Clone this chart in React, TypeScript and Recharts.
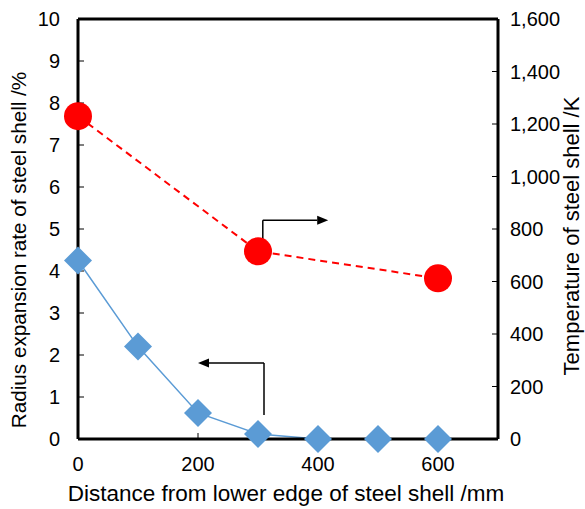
import { ComposedChart, Line, XAxis, YAxis, ReferenceLine, Label } from 'recharts'

const distance = [0, 100, 200, 300, 400, 500, 600]
const expansion = [4.25, 2.2, 0.62, 0.12, 0, 0, 0]
const tempDistance = [0, 300, 600]
const temperature = [1230, 715, 612]

const xTicks = [0, 200, 400, 600]
const leftTicks = [0, 1, 2, 3, 4, 5, 6, 7, 8, 9, 10]
const rightTicks = [0, 200, 400, 600, 800, 1000, 1200, 1400, 1600]

// annotation arrows, in data units (x mm, left axis %)
const toRightArrow = { x: 308, yFrom: 4.74, yTo: 5.21, xTo: 417 }
const toLeftArrow = { x: 310, yFrom: 0.57, yTo: 1.81, xTo: 200 }

const expansionData = distance.map((x, i) => ({ x, v: expansion[i] }))
const tempData = tempDistance.map((x, i) => ({ x, t: temperature[i] }))

const FONT = '"Liberation Sans", Arial, sans-serif'
const tickStyle = { fill: '#000', fontSize: 20, fontFamily: FONT }

function Diamond(props: any) {
  const { cx, cy, index } = props
  const r = 14
  return (
    <path
      key={`d-${index}`}
      d={`M${cx},${cy - r}L${cx + r},${cy}L${cx},${cy + r}L${cx - r},${cy}Z`}
      fill="#5B9BD5"
    />
  )
}

function Circle(props: any) {
  const { cx, cy, index } = props
  return <circle key={`c-${index}`} cx={cx} cy={cy} r={14} fill="#FF0000" />
}

function ArrowLine(props: any) {
  const { x1, y1, x2, y2 } = props
  const dir = x2 > x1 ? 1 : -1
  const len = 11
  const half = 4.5
  return (
    <g>
      <line x1={x1} y1={y1} x2={x2 - dir * len} y2={y2} stroke="#000" strokeWidth={1.5} />
      <path
        d={`M${x2},${y2}L${x2 - dir * len},${y2 - half}L${x2 - dir * len},${y2 + half}Z`}
        fill="#000"
      />
    </g>
  )
}

// axis titles placed from the axis box handed in by recharts
function xTitle(text: string) {
  return (p: any) => {
    const { x, y, width } = p.viewBox
    return (
      <text x={x + width / 2 - 2} y={y + 54} textAnchor="middle" dominantBaseline="central"
        fill="#000" fontSize={22.5} fontFamily={FONT}>{text}</text>
    )
  }
}

function yTitle(text: string, offX: number, offY: number, size: number) {
  return (p: any) => {
    const { x, y, height } = p.viewBox
    const cx = x + offX
    const cy = y + height / 2 + offY
    return (
      <text x={cx} y={cy} transform={`rotate(-90 ${cx} ${cy})`} textAnchor="middle"
        dominantBaseline="central" fill="#000" fontSize={size} fontFamily={FONT}>{text}</text>
    )
  }
}

export default function App() {
  return (
    <div style={{ position: 'absolute', left: 0, top: 0, background: '#fff' }}>
      <ComposedChart
        width={585}
        height={509}
        margin={{ top: 19, right: 0, bottom: 0, left: 0 }}
        style={{ fontFamily: FONT }}
      >
        <XAxis
          dataKey="x"
          type="number"
          domain={[0, 700]}
          ticks={xTicks}
          height={70}
          tick={tickStyle}
          tickSize={-6}
          tickMargin={24}
          axisLine={{ stroke: '#000', strokeWidth: 3 }}
          tickLine={{ stroke: '#000', strokeWidth: 1 }}
        >
          <Label content={xTitle('Distance from lower edge of steel shell /mm')} />
        </XAxis>
        <YAxis
          yAxisId="left"
          orientation="left"
          width={78}
          domain={[0, 10]}
          ticks={leftTicks}
          tick={tickStyle}
          tickSize={-6}
          tickMargin={24}
          axisLine={{ stroke: '#000', strokeWidth: 3 }}
          tickLine={{ stroke: '#000', strokeWidth: 1 }}
        >
          <Label content={yTitle('Radius expansion rate of steel shell /%', 18, 21, 20.7)} />
        </YAxis>
        <YAxis
          yAxisId="right"
          orientation="right"
          width={87}
          domain={[0, 1600]}
          ticks={rightTicks}
          tickFormatter={(v: number) => v.toLocaleString('en-US')}
          tick={tickStyle}
          tickSize={-6}
          tickMargin={18}
          axisLine={{ stroke: '#000', strokeWidth: 3 }}
          tickLine={{ stroke: '#000', strokeWidth: 1 }}
        >
          <Label content={yTitle('Temperature of steel shell /K', 73, 7, 22)} />
        </YAxis>

        <ReferenceLine yAxisId="left" y={10} stroke="#000" strokeWidth={3} />

        <ReferenceLine
          yAxisId="left"
          segment={[
            { x: toRightArrow.x, y: toRightArrow.yFrom },
            { x: toRightArrow.x, y: toRightArrow.yTo },
          ]}
          stroke="#000"
          strokeWidth={1.5}
        />
        <ReferenceLine
          yAxisId="left"
          segment={[
            { x: toRightArrow.x, y: toRightArrow.yTo },
            { x: toRightArrow.xTo, y: toRightArrow.yTo },
          ]}
          shape={ArrowLine}
        />
        <ReferenceLine
          yAxisId="left"
          segment={[
            { x: toLeftArrow.x, y: toLeftArrow.yFrom },
            { x: toLeftArrow.x, y: toLeftArrow.yTo },
          ]}
          stroke="#000"
          strokeWidth={1.5}
        />
        <ReferenceLine
          yAxisId="left"
          segment={[
            { x: toLeftArrow.x, y: toLeftArrow.yTo },
            { x: toLeftArrow.xTo, y: toLeftArrow.yTo },
          ]}
          shape={ArrowLine}
        />

        <Line
          yAxisId="right"
          data={tempData}
          dataKey="t"
          stroke="#FF0000"
          strokeWidth={2}
          strokeDasharray="7 5"
          dot={Circle}
          activeDot={false}
          isAnimationActive={false}
        />
        <Line
          yAxisId="left"
          data={expansionData}
          dataKey="v"
          stroke="#5B9BD5"
          strokeWidth={1.5}
          dot={Diamond}
          activeDot={false}
          isAnimationActive={false}
        />
      </ComposedChart>
    </div>
  )
}
